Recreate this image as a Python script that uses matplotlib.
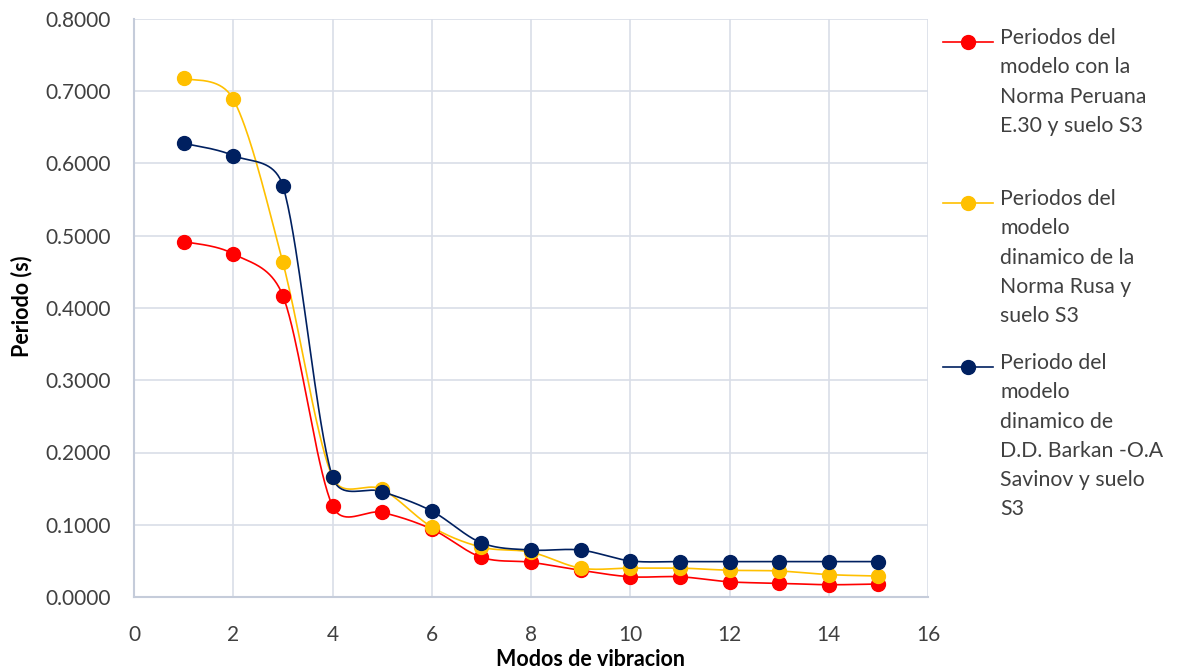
import numpy as np
import matplotlib
matplotlib.use("Agg")
import matplotlib.pyplot as plt
from matplotlib.lines import Line2D

plt.rcParams['font.family'] = ['Lato', 'DejaVu Sans']

modos = [1, 2, 3, 4, 5, 6, 7, 8, 9, 10, 11, 12, 13, 14, 15]
peruana = [0.492, 0.475, 0.417, 0.126, 0.117, 0.094, 0.055, 0.048, 0.037,
           0.028, 0.028, 0.021, 0.019, 0.017, 0.018]
rusa = [0.718, 0.689, 0.463, 0.166, 0.149, 0.097, 0.069, 0.062, 0.040,
        0.040, 0.040, 0.037, 0.036, 0.031, 0.029]
barkan = [0.628, 0.611, 0.569, 0.166, 0.146, 0.119, 0.075, 0.065, 0.065,
          0.050, 0.049, 0.049, 0.049, 0.049, 0.049]

labels = [
    "Periodos del\nmodelo con la\nNorma Peruana\nE.30 y suelo S3",
    "Periodos del\nmodelo\ndinamico de la\nNorma Rusa y\nsuelo S3",
    "Periodo del\nmodelo\ndinamico de\nD.D. Barkan -O.A\nSavinov y suelo\nS3",
]
colors = ["#FF0000", "#FFC000", "#002060"]
series = [peruana, rusa, barkan]

W, H = 1179, 671
X0, X1, Y0, Y1 = 134, 928, 19, 597  # plot area in pixels
xmin, xmax, ymin, ymax = 0, 16, 0, 0.8
sx_ = (X1 - X0) / (xmax - xmin)
sy_ = (Y1 - Y0) / (ymax - ymin)


def smooth(x, y, n=40):
    # Excel-like smoothed line, computed in screen space
    P = np.column_stack([np.asarray(x, float) * sx_, np.asarray(y, float) * sy_])
    Pp = np.vstack([P[0], P, P[-1]])
    out = []
    t = np.linspace(0, 1, n)[:, None]
    f = 1 / 6
    for i in range(len(P) - 1):
        p0, p1, p2, p3 = Pp[i], Pp[i + 1], Pp[i + 2], Pp[i + 3]
        d02 = np.linalg.norm(p2 - p0)
        d12 = np.linalg.norm(p2 - p1)
        d13 = np.linalg.norm(p3 - p1)
        f0 = f if d02 * f < d12 / 2 else d12 / (2 * d02)
        f3 = f if d13 * f < d12 / 2 else d12 / (2 * d13)
        c1 = p1 + (p2 - p0) * f0
        c2 = p2 - (p3 - p1) * f3
        seg = ((1 - t) ** 3) * p1 + 3 * ((1 - t) ** 2) * t * c1 + 3 * (1 - t) * t ** 2 * c2 + t ** 3 * p2
        out.append(seg if i == 0 else seg[1:])
    out = np.vstack(out)
    return out[:, 0] / sx_, out[:, 1] / sy_


fig = plt.figure(figsize=(W / 100, H / 100), dpi=100)
ax = fig.add_axes([X0 / W, 1 - Y1 / H, (X1 - X0) / W, (Y1 - Y0) / H])

for vals, c in zip(series, colors):
    sx, sy = smooth(modos, vals)
    ax.plot(sx, sy, color=c, lw=1.2, zorder=3)
    ax.plot(modos, vals, 'o', color=c, ms=10, zorder=4, mec=c)

ax.set_xlim(xmin, xmax)
ax.set_ylim(ymin, ymax)
ax.set_xticks(np.arange(0, 17, 2))
ax.set_yticks(np.arange(0, 0.81, 0.1))
ax.set_yticklabels([f"{v:.4f}" for v in np.arange(0, 0.81, 0.1)])
ax.tick_params(length=0, labelsize=15, colors="#404040")
ax.tick_params(axis='y', pad=17)
ax.tick_params(axis='x', pad=20)
ax.grid(True, color="#D9DEE8", lw=1.2)
ax.set_axisbelow(True)
for s in ["top", "right"]:
    ax.spines[s].set_visible(False)
for s in ["left", "bottom"]:
    ax.spines[s].set_color("#C5CCDA")
    ax.spines[s].set_linewidth(1.5)

fig.text(22 / W, 1 - 306 / H, "Periodo (s)", rotation=90, ha="center", va="center",
         fontsize=15.5, fontweight="bold", color="black")
fig.text(591 / W, 1 - 659 / H, "Modos de vibracion", ha="center", va="center",
         fontsize=15.5, fontweight="bold", color="black")

ys = [42, 203, 367]
for lab, c, yy in zip(labels, colors, ys):
    fig.add_artist(Line2D([943 / W, 993 / W], [1 - yy / H] * 2, color=c, lw=1.2,
                          transform=fig.transFigure))
    fig.add_artist(Line2D([968 / W], [1 - yy / H], color=c, marker='o', ms=10,
                          transform=fig.transFigure))
    fig.text(1000 / W, 1 - (yy - 14) / H, lab, ha="left", va="top", fontsize=15.3,
             color="#404040", linespacing=1.58)

fig.savefig("out.png", dpi=100)
